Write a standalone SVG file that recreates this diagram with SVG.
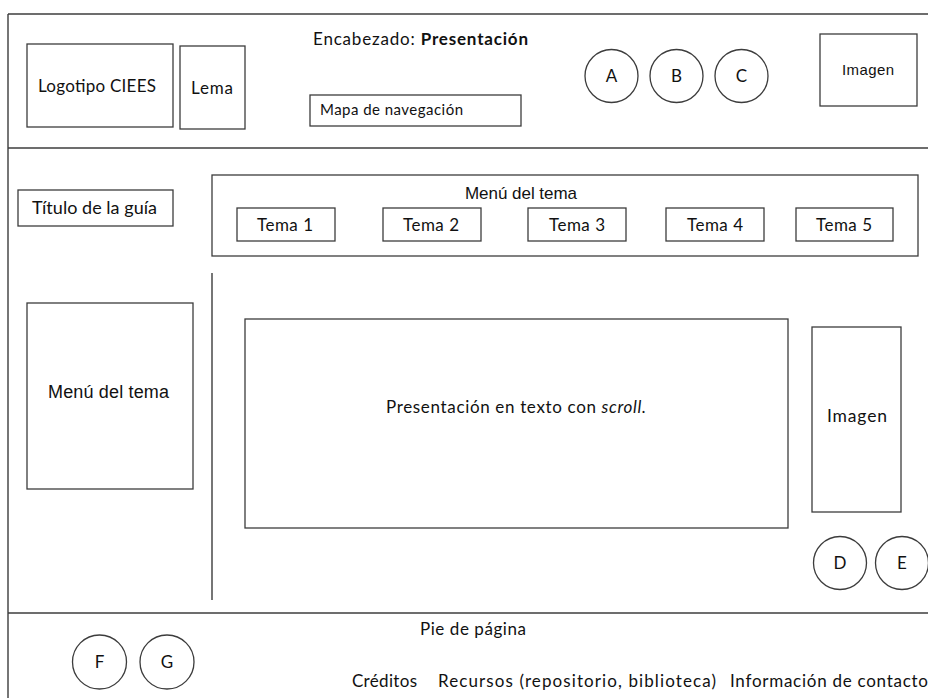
<svg xmlns="http://www.w3.org/2000/svg" width="928" height="698" viewBox="0 0 928 698">
<style>
.ln{stroke:#3c3c3c;stroke-width:1.4;fill:none}
.bx{stroke:#3c3c3c;stroke-width:1.3;fill:#fff}
.t{font-family:Lato,"Open Sans","Liberation Sans",sans-serif;font-size:17px;fill:#111}
.a{font-family:"Liberation Sans",Arial,sans-serif;font-size:17px;fill:#111}
.c{text-anchor:middle}
.l{font-size:17px}
</style>
<rect width="928" height="698" fill="#fff"/>
<g id="frame">
<line class="ln" x1="8" y1="14" x2="928" y2="14"/>
<line class="ln" x1="8" y1="14" x2="8" y2="698"/>
<line class="ln" x1="8" y1="148" x2="928" y2="148"/>
<line class="ln" x1="8" y1="613" x2="928" y2="613"/>
<line class="ln" x1="212" y1="273" x2="212" y2="600"/>
</g>
<g id="header-title"><text class="t" x="313" y="45" textLength="215">Encabezado: <tspan font-weight="bold">Presentación</tspan></text></g>
<g id="logo"><rect class="bx" x="27" y="44" width="146" height="83"/><text class="t" x="38" y="92" textLength="118">Logotipo CIEES</text></g>
<g id="lema"><rect class="bx" x="180" y="46" width="65" height="83"/><text class="t" x="191" y="94" textLength="42">Lema</text></g>
<g id="mapa"><rect class="bx" x="310" y="95" width="211" height="31"/><text class="t" x="320" y="115" style="font-size:15px" textLength="143">Mapa de navegación</text></g>
<g id="btnA"><circle class="bx" cx="611.5" cy="76" r="26.5"/><text class="t c" x="611.5" y="82">A</text></g>
<g id="btnB"><circle class="bx" cx="676.5" cy="76" r="26.5"/><text class="t c" x="676.5" y="82">B</text></g>
<g id="btnC"><circle class="bx" cx="741.5" cy="76" r="26.5"/><text class="t c" x="741.5" y="82">C</text></g>
<g id="imagen-top"><rect class="bx" x="820" y="34" width="97" height="72"/><text class="a" x="842" y="75" style="font-size:15px" textLength="52">Imagen</text></g>
<g id="titulo"><rect class="bx" x="18" y="190" width="155" height="36"/><text class="t" x="32" y="214" style="font-size:18px" textLength="125">Título de la guía</text></g>
<g id="menu-top"><rect class="bx" x="212" y="175" width="706" height="81"/><text class="a" x="465" y="199" textLength="112">Menú del tema</text></g>
<g id="tema1"><rect class="bx" x="237" y="208" width="98" height="33"/><text class="t" x="257" y="231" textLength="56">Tema 1</text></g>
<g id="tema2"><rect class="bx" x="383" y="208" width="98" height="33"/><text class="t" x="403" y="231" textLength="56">Tema 2</text></g>
<g id="tema3"><rect class="bx" x="528" y="208" width="98" height="33"/><text class="t" x="549" y="231" textLength="56">Tema 3</text></g>
<g id="tema4"><rect class="bx" x="666" y="208" width="98" height="33"/><text class="t" x="687" y="231" textLength="56">Tema 4</text></g>
<g id="tema5"><rect class="bx" x="796" y="208" width="97" height="33"/><text class="t" x="816" y="231" textLength="56">Tema 5</text></g>
<g id="menu-left"><rect class="bx" x="27" y="303" width="166" height="186"/><text class="a" x="48" y="398" style="font-size:18px" textLength="121">Menú del tema</text></g>
<g id="presentacion"><rect class="bx" x="245" y="319" width="543" height="209"/><text class="t" x="386" y="413" textLength="260">Presentación en texto con <tspan font-style="italic">scroll.</tspan></text></g>
<g id="imagen-right"><rect class="bx" x="812" y="327" width="89" height="185"/><text class="t" x="827" y="422" style="font-size:17.5px" textLength="60">Imagen</text></g>
<g id="btnD"><circle class="bx" cx="840" cy="563" r="26.5"/><text class="t c" x="840" y="569">D</text></g>
<g id="btnE"><circle class="bx" cx="902" cy="563" r="26.5"/><text class="t c" x="902" y="569">E</text></g>
<g id="pie"><text class="t" x="420" y="635" textLength="106">Pie de página</text></g>
<g id="btnF"><circle class="bx" cx="99.5" cy="662" r="27"/><text class="t c" x="99.5" y="668">F</text></g>
<g id="btnG"><circle class="bx" cx="167" cy="662" r="27"/><text class="t c" x="167" y="668">G</text></g>
<g id="creditos"><text class="t" x="352" y="687" textLength="65">Créditos</text></g>
<g id="recursos"><text class="t" x="438" y="687" textLength="278">Recursos (repositorio, biblioteca)</text></g>
<g id="contacto"><text class="t" x="730" y="687" textLength="198">Información de contacto</text></g>
</svg>
